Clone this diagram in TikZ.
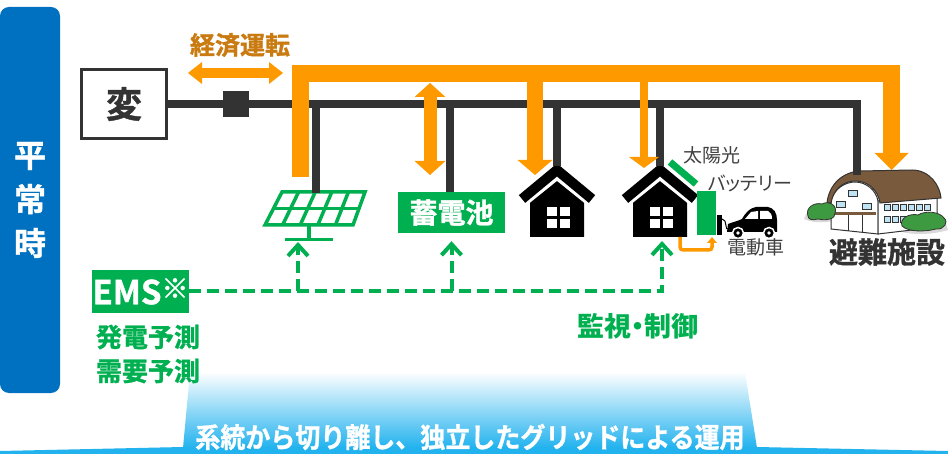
\documentclass[tikz,border=0pt]{standalone}
\usepackage{fontspec}
\setmainfont{Noto Sans CJK JP}[BoldFont={Noto Sans CJK JP Bold}, BoldFeatures={FakeBold=1.2}]
\newfontfamily\jpprop{Noto Sans CJK JP}[RawFeature=+palt]
\usetikzlibrary{arrows.meta}
\definecolor{barblue}{HTML}{0070C0}
\definecolor{dark}{HTML}{333333}
\definecolor{ora}{HTML}{FF9900}
\definecolor{orat}{HTML}{C97A10}
\definecolor{grn}{HTML}{00B050}
\definecolor{gtxt}{HTML}{404040}
\definecolor{sky}{HTML}{22B2EE}
\definecolor{roofb}{HTML}{7A5A3C}
\definecolor{bush}{HTML}{3E9A40}
\definecolor{win}{HTML}{BFE3F2}
\newcommand\pxfont[1]{\fontsize{#1}{#1}\selectfont}
\begin{document}
\begin{tikzpicture}[x=1pt,y=-1pt,
 bus/.style={dark, line width=7.5pt},
 panel/.style={grn, line width=3.5pt},
 ctl/.style={grn, line width=4pt, dash pattern=on 12pt off 6pt, -{Straight Barb[length=11pt,width=20pt]}},
 lbl/.style={text=gtxt, font=\pxfont{19}},
 glbl/.style={text=grn, font=\bfseries\pxfont{26}}]
\useasboundingbox (0,0) rectangle (948,454);
\shade[top color=white, bottom color=sky] (190,372) -- (745,372) -- (757,448) -- (183,448) -- cycle;
\fill[sky] (0,451) -- (183,447) -- (757,447) -- (948,451) -- (948,454) -- (0,454) -- cycle;
\node[fill=barblue, rounded corners=9pt, minimum width=60pt, minimum height=386pt, text=white, align=center, font=\bfseries\fontsize{32}{44}\selectfont] (mode) at (30,200) {平\\常\\時};
\node[draw=dark, line width=3pt, minimum width=85pt, minimum height=69pt, text=dark, font=\bfseries\pxfont{36}] (hen) at (124,104) {変};
\node[fill=dark, minimum size=26pt, inner sep=0pt] (brk) at (236,104) {};
\foreach \px/\nm in {557/h1,660/h2}{
\fill (\px-27,237) -- (\px-27,190) -- (\px,170) -- (\px+27,190) -- (\px+27,237) -- cycle;
\draw[white, line width=17pt] (\px-36,199) -- (\px,170) -- (\px+36,199);
\draw[line width=10pt] (\px-35,199) -- (\px,170) -- (\px+35,199);
\foreach \dx in {-1,1}{\foreach \dy in {-1,1}{
\fill[white] (\px+1.5+1.5*\dx,217.5+1.5*\dy) rectangle (\px+1.5+11.5*\dx,217.5+10.5*\dy);}}
\coordinate (\nm) at (\px+2,241);
}
\draw[grn, line width=7pt] (670,162) -- (696,184);
\fill[grn] (697,191) rectangle (716,235);
\fill (717,215) rectangle (722,235);
\draw[line width=1pt] (722,219) .. controls (728,219) and (724,232) .. (729,229);
\fill (727,232) -- (728,224) .. controls (733,222) and (738,221) .. (742,219) .. controls (746,212) and (750,208) .. (756,207) -- (768,207) .. controls (774,208) and (777,213) .. (777,220) -- (777,232) -- cycle;
\fill[white] (745,219) -- (751,212) -- (758,211) -- (758,219) -- cycle;
\fill[white] (760,211) -- (768,211) .. controls (771,212) and (772,215) .. (772,219) -- (760,219) -- cycle;
\foreach \wx in {738,769}{
\filldraw[fill=black, draw=white, line width=1.5pt] (\wx,233) circle[radius=5.5pt];
\fill[white] (\wx,233) circle[radius=1.8pt];}
\draw[ora, line width=3.5pt, rounded corners=3pt, -{Triangle[length=6pt,width=10pt,line width=0pt]}] (680,237) -- (680,250) -- (712,250) -- (712,237);
\fill[gray!30] (804,219) .. controls (815,224) and (832,223) .. (840,218) -- (835,212) -- (806,214) -- cycle;
\fill[gray!30] (898,231) .. controls (915,236) and (935,234) .. (948,230) -- (946,224) -- (900,226) -- cycle;
\filldraw[fill=white, draw=dark, line width=1pt] (831,201) .. controls (834,188) and (846,182) .. (855,182) .. controls (866,182) and (876,190) .. (878,201) -- (878,234) -- (831,229) -- cycle;
\filldraw[fill=white, draw=dark, line width=1pt] (878,201) -- (937,197) -- (937,227) -- (878,234) -- cycle;
\filldraw[fill=roofb, draw=dark, line width=1pt] (827,203) .. controls (829,184) and (843,172) .. (860,171) -- (912,170) .. controls (930,170) and (940,186) .. (941,198) -- (880,203) .. controls (878,190) and (868,181) .. (855,181) .. controls (843,181) and (833,190) .. (831,203) -- cycle;
\foreach \wx/\wy in {836/201,848/190,862/203}{
\filldraw[fill=win, draw=dark, line width=0.8pt] (\wx,\wy) rectangle (\wx+9,\wy+6);}
\foreach \wx in {884,892,...,924}{
\filldraw[fill=win, draw=dark, line width=0.8pt] (\wx,204) rectangle (\wx+6,210);
\filldraw[fill=win, draw=dark, line width=0.8pt] (\wx,216) rectangle (\wx+6,222);}
\fill[roofb] (834,212) rectangle (876,215);
\draw[dark, line width=0.8pt] (848,215) -- (848,231) (862,215) -- (862,232);
\filldraw[fill=bush, draw=dark, line width=0.8pt] (808,216) .. controls (805,208) and (814,202) .. (822,204) .. controls (829,200) and (838,206) .. (835,213) .. controls (836,219) and (826,221) .. (818,219) .. controls (812,221) and (808,219) .. (808,216) -- cycle;
\filldraw[fill=bush, draw=dark, line width=0.8pt] (902,226) .. controls (899,218) and (910,213) .. (918,215) .. controls (926,210) and (940,212) .. (944,218) .. controls (949,222) and (944,230) .. (936,229) .. controls (925,232) and (908,232) .. (902,226) -- cycle;
\draw[panel, fill=white] (282,192) -- (365,192) -- (353,225) -- (265,225) -- cycle;
\foreach \i in {1,...,4}{\draw[panel] (282+16.6*\i,192) -- (265+17.6*\i,225);}
\draw[panel] (273.5,208.5) -- (359,208.5);
\draw[panel] (309,225) -- (309,239.5);
\draw[panel] (285,239.5) -- (333,239.5);
\node[fill=grn, text=white, minimum width=107pt, minimum height=41pt, font=\bfseries\pxfont{28}] (bat) at (451.5,212.5) {蓄電池};
\coordinate (sol) at (298,242);
\coordinate (bld) at (857,175);
\coordinate (j1) at (316,104);
\coordinate (j2) at (450,104);
\coordinate (j3) at (557,104);
\coordinate (j4) at (660,104);
\coordinate (j5) at (857,104);
\draw[bus] (hen.east) -- (j5) -- (bld);
\draw[bus] (j1) -- (316,193);
\draw[bus] (j2) -- (j2 |- bat.north);
\draw[bus] (j3) -- (557,166);
\draw[bus] (j4) -- (660,166);
\coordinate (e1) at (188,73);
\coordinate (e2) at (283,73);
\coordinate (bldin) at (891.5,170);
\coordinate (h1in) at (535,175);
\coordinate (h2in) at (644,168);
\coordinate (bt) at (430,83);
\coordinate (bb) at (430,175);
\draw[ora, line width=10pt, {Triangle[length=14pt,width=22pt,line width=0pt]}-{Triangle[length=14pt,width=22pt,line width=0pt]}] (e1) -- (e2);
\draw[ora, line width=17pt, -{Triangle[length=17pt,width=34pt,line width=0pt]}] (300.5,177) -- (300.5,73.5) -- (891.5,73.5) -- (bldin);
\draw[ora, line width=16pt, -{Triangle[length=15pt,width=35pt,line width=0pt]}] (535,73.5) -- (h1in);
\draw[ora, line width=8pt, -{Triangle[length=11pt,width=30pt,line width=0pt]}] (644,73.5) -- (h2in);
\draw[ora, line width=13pt, {Triangle[length=14pt,width=31pt,line width=0pt]}-{Triangle[length=14pt,width=31pt,line width=0pt]}] (bt) -- (bb);
\node[fill=grn, text=white, minimum width=95pt, minimum height=43pt, inner sep=0pt, font=\bfseries\pxfont{33}] (ems) at (140.5,291.5) {EMS\raisebox{6pt}{\pxfont{27}※}};
\draw[ctl] (ems.east) -| (h2);
\draw[ctl] (ems.east -| sol) -- (sol);
\draw[ctl] (ems.east -| bat.south) -- ([yshift=-8pt]bat.south);
\node[text=orat, font=\bfseries\pxfont{25}] (eco) at (240,45) {経済運転};
\node[lbl] (pvlbl) at (712,155) {太陽光};
\node[lbl, font=\jpprop\pxfont{19}] (batlbl) at (750,183) {バッテリー};
\node[lbl] (evlbl) at (756,247) {電動車};
\node[text=dark, font=\bfseries\pxfont{29}] (bldlbl) at (887,252) {避難施設};
\node[glbl] (fc1) at (148,337) {発電予測};
\node[glbl] (fc2) at (148,371) {需要予測};
\node[glbl, font=\bfseries\jpprop\pxfont{27}] (mon) at (638,326) {監視・制御};
\node[text=white, font=\bfseries\pxfont{25}, yscale=1.1] (grid) at (470,437) {系統から切り離し、独立したグリッドによる運用};
\end{tikzpicture}
\end{document}
